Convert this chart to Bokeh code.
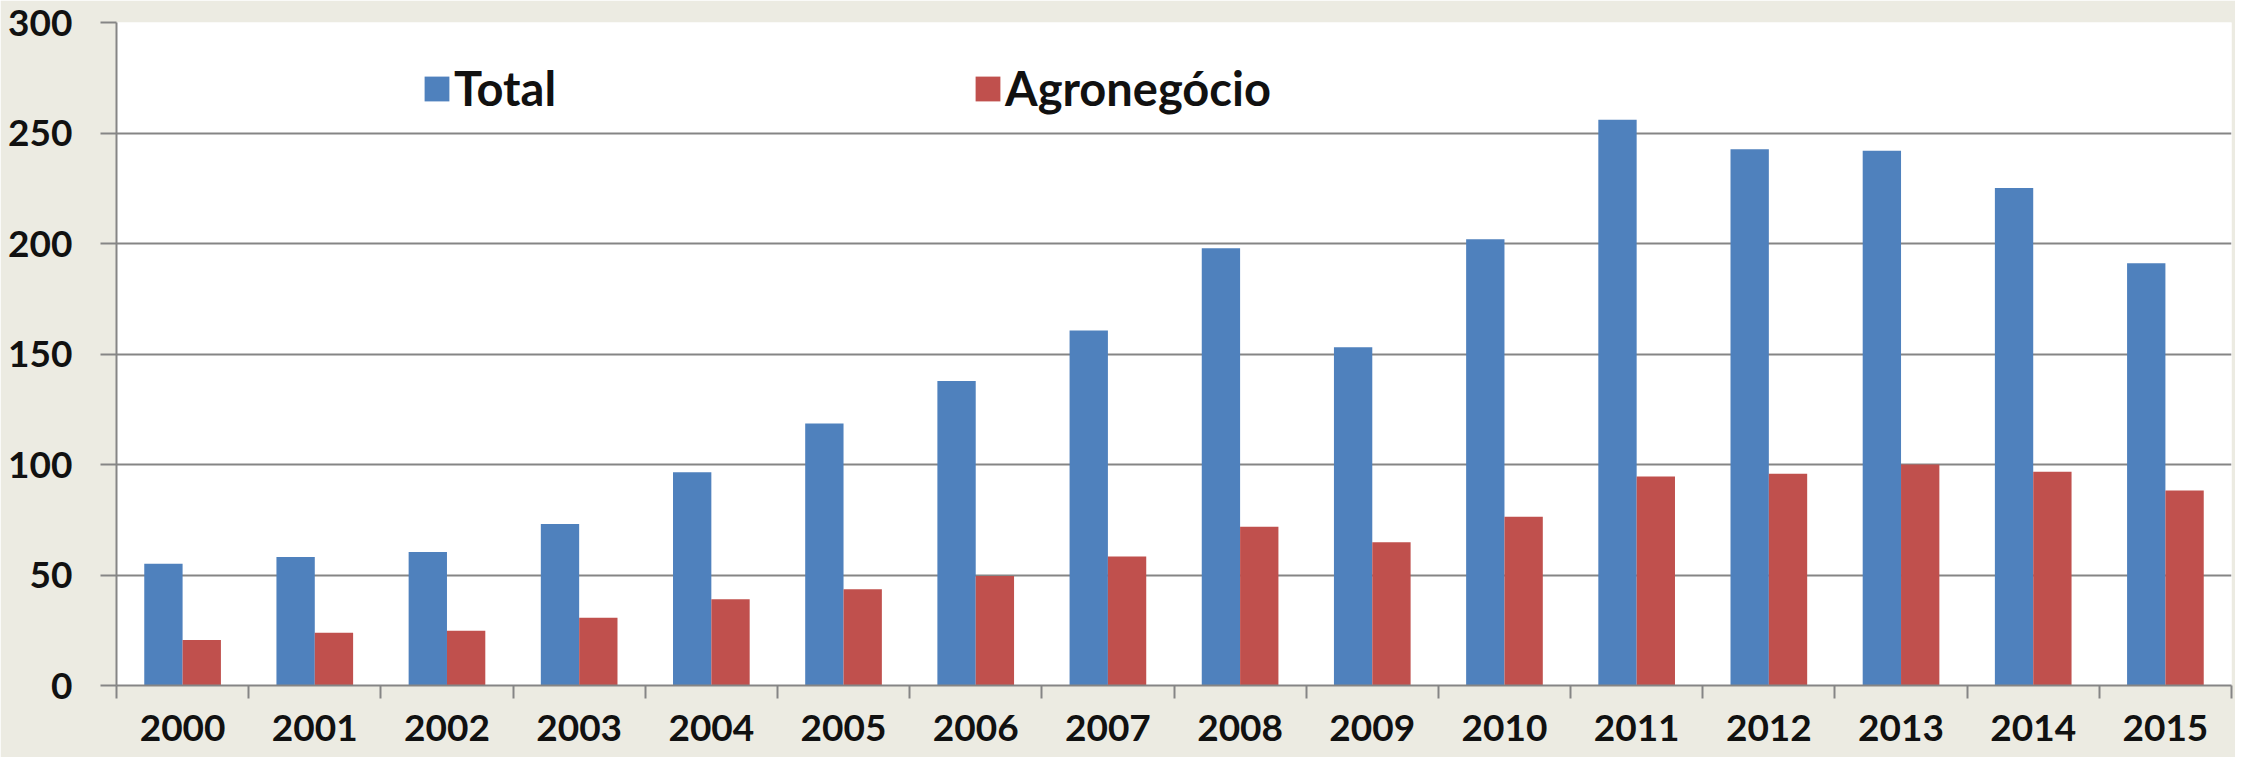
from bokeh.plotting import figure
from bokeh.models import ColumnDataSource, FixedTicker, Legend, LegendItem, Range1d
from bokeh.transform import dodge
from bokeh.embed import file_html
from bokeh.resources import INLINE

years = [2000, 2001, 2002, 2003, 2004, 2005, 2006, 2007,
         2008, 2009, 2010, 2011, 2012, 2013, 2014, 2015]
total = [55.1, 58.2, 60.4, 73.1, 96.5, 118.5, 137.8, 160.6,
         197.9, 153.0, 201.9, 256.0, 242.6, 242.0, 225.1, 191.1]
agro = [20.6, 23.9, 24.8, 30.6, 39.0, 43.6, 49.5, 58.4,
        71.8, 64.8, 76.4, 94.6, 95.8, 100.0, 96.7, 88.2]
y_ticks = [0, 50, 100, 150, 200, 250, 300]
series_names = ["Total", "Agronegócio"]

BLUE = "#4F81BD"
RED = "#C0504D"
BG = "#ECEBE2"
GRID = "#858585"
FONT = "Lato"

src = ColumnDataSource(dict(year=years, total=total, agro=agro))

p = figure(output_backend="svg", toolbar_location=None,
           width=2235, height=757,
           x_range=Range1d(years[0] - 0.5, years[-1] + 0.5),
           y_range=Range1d(0, 300))
p.min_border_left = 116
p.min_border_top = 22
p.min_border_right = 4
p.min_border_bottom = 72
p.background_fill_color = "white"
p.border_fill_color = BG
p.outline_line_color = None

bw = 0.29
r1 = p.vbar(x=dodge("year", -bw / 2, range=p.x_range), top="total", width=bw,
            source=src, fill_color=BLUE, line_color=None)
r2 = p.vbar(x=dodge("year", bw / 2, range=p.x_range), top="agro", width=bw,
            source=src, fill_color=RED, line_color=None)

# grid
p.xgrid.visible = False
p.ygrid.ticker = FixedTicker(ticks=y_ticks)
p.ygrid.grid_line_color = GRID
p.ygrid.grid_line_width = 2

# y axis
ya = p.yaxis[0]
ya.ticker = FixedTicker(ticks=y_ticks)
ya.axis_line_color = GRID
ya.axis_line_width = 2
ya.major_tick_line_color = GRID
ya.major_tick_line_width = 2
ya.major_tick_out = 16
ya.major_tick_in = 0
ya.minor_tick_line_color = None
ya.major_label_standoff = 28
ya.major_label_text_font = FONT
ya.major_label_text_font_style = "bold"
ya.major_label_text_font_size = "37px"
ya.major_label_text_color = "#111111"

# x axis
xa = p.xaxis[0]
xa.ticker = FixedTicker(ticks=years,
                        minor_ticks=[y - 0.5 for y in years] + [years[-1] + 0.5])
xa.axis_line_color = GRID
xa.axis_line_width = 2
xa.major_tick_line_color = None
xa.major_tick_out = 0
xa.major_tick_in = 0
xa.minor_tick_line_color = GRID
xa.minor_tick_line_width = 2
xa.minor_tick_out = 13
xa.minor_tick_in = 0
xa.major_label_standoff = 16
xa.major_label_text_font = FONT
xa.major_label_text_font_style = "bold"
xa.major_label_text_font_size = "37px"
xa.major_label_text_color = "#111111"


def make_legend(name, renderer, loc):
    lg = Legend(items=[LegendItem(label=name, renderers=[renderer])],
                location=loc, orientation="horizontal")
    lg.padding = 0
    lg.margin = 0
    lg.border_line_color = None
    lg.background_fill_alpha = 0
    lg.glyph_width = 31
    lg.glyph_height = 31
    lg.label_height = 31
    lg.label_standoff = 2
    lg.label_text_font = FONT
    lg.label_text_font_style = "bold"
    lg.label_text_font_size = "47px"
    lg.label_text_color = "#111111"
    lg.label_text_baseline = "middle"
    return lg


p.add_layout(make_legend(series_names[0], r1, (305, 569)), "center")
p.add_layout(make_legend(series_names[1], r2, (856, 569)), "center")

open("out.html", "w").write(file_html(p, INLINE))
